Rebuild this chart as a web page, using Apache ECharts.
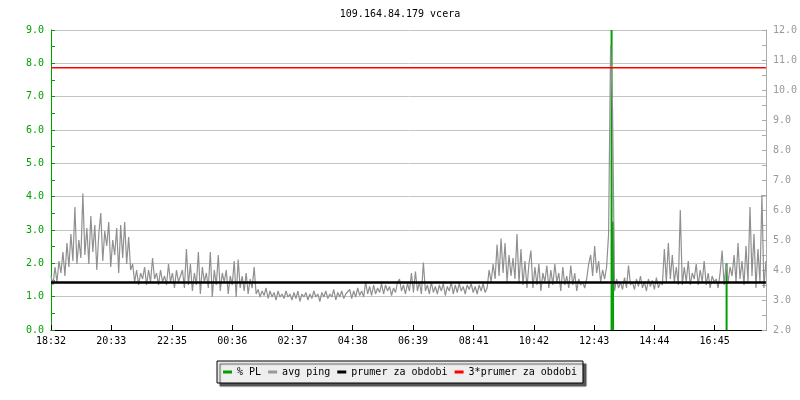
<!DOCTYPE html>
<html><head><meta charset="utf-8">
<script src="https://cdn.jsdelivr.net/npm/echarts@6/dist/echarts.min.js"></script>
<style>html,body{margin:0;padding:0;background:#fff}#c{width:800px;height:400px}</style>
</head><body><div id="c"></div>
<script>
const titleText = '109.164.84.179 vcera';
const tickLabels = ['18:32','20:33','22:35','00:36','02:37','04:38','06:39','08:41','10:42','12:43','14:44','16:45'];
const spanMinutes = 1436;
const pingStepMinutes = 4;
// avg ping [ms], one value every 4 minutes, starting 18:32
const pingValues = [
3.8,3.5,4.1,3.6,4.3,
3.9,4.6,3.8,4.9,4.1,5.2,4.3,6.1,4.2,5.0,4.4,
6.55,4.5,5.4,4.2,5.8,4.6,5.5,4.0,5.2,
5.9,4.3,5.3,4.8,5.6,4.1,5.0,4.5,5.4,3.9,5.5,4.4,5.6,4.2,5.1,4.0,
4.2,3.6,4.0,3.5,3.9,3.7,4.1,3.5,4.0,3.6,4.4,3.7,3.9,3.5,4.0,3.6,3.8,3.5,4.2,3.6,3.9,3.4,4.0,3.6,3.8,
4.0,3.4,4.7,3.5,4.2,3.3,3.9,3.5,4.6,3.2,4.1,3.6,3.9,3.4,4.6,3.1,4.0,3.5,4.5,3.3,3.9,3.6,4.0,3.2,3.8,3.5,4.3,3.1,4.35,3.4,3.8,3.3,3.9,3.2,3.7,3.4,4.1,
3.2,3.35,3.1,3.3,3.15,3.4,3.05,3.3,3.1,3.25,3.0,3.3,3.1,3.2,3.05,3.3,3.1,
3.2,3.0,3.25,3.05,3.3,2.95,3.2,3.1,3.25,3.0,3.2,3.05,3.3,3.1,3.2,2.95,3.25,3.1,3.3,3.05,3.2,3.1,3.35,3.0,3.25,3.1,3.3,3.05,3.2,3.15,3.35,3.05,3.3,3.1,3.4,3.15,3.3,3.1,
3.6,3.2,3.45,3.15,3.5,3.2,3.4,3.25,3.55,3.2,3.5,3.3,3.45,3.15,3.4,3.25,3.6,
3.7,3.3,3.5,3.2,3.55,3.3,3.9,3.25,3.95,3.3,3.6,3.2,4.25,3.3,3.5,3.2,3.6,3.25,3.45,3.2,3.5,3.3,3.55,3.15,3.45,3.3,3.6,3.2,3.5,3.25,3.55,3.3,3.45,3.2,3.5,3.35,3.55,3.25,3.45,3.2,3.5,3.3,3.55,3.25,3.4,
4.0,3.6,4.2,3.7,4.85,3.8,5.05,3.9,4.9,3.6,4.5,3.8,4.4,3.7,5.2,3.55,4.7,3.5,4.3,3.4,
4.2,4.65,3.4,4.1,3.5,4.2,3.3,3.9,3.6,4.15,3.4,4.0,3.5,4.2,3.6,3.9,3.3,4.1,3.5,3.8,3.4,4.15,3.5,3.9,3.3,3.7,3.5,3.6,3.4,
3.7,4.2,4.5,3.8,4.8,3.9,4.3,3.6,4.0,3.7,4.1,5.2,11.5,
9.3,
3.3,3.7,3.4,3.6,3.35,3.75,3.4,4.15,3.5,3.6,3.35,3.7,3.45,3.8,3.4,3.6,3.3,3.7,3.45,3.65,3.35,3.75,3.4,3.6,
3.5,4.7,3.6,4.9,3.7,4.5,3.6,4.1,3.5,6.0,
3.5,4.1,3.6,4.3,3.5,3.9,3.7,4.2,3.5,4.0,3.6,4.3,3.5,3.9,3.4,3.8,3.6,3.7,3.4,3.9,
4.65,3.5,4.2,3.6,4.1,3.8,4.5,3.6,4.9,3.7,4.3,3.5,4.8,3.6,6.1,3.8,5.2,3.4,4.7,3.6,6.5,3.4,4.3
];
// packet loss [%]
const plMinutes = [1126, 1129, 1357];
const plValues = [10, 3.25, 2.0];
const meanPing = 3.58;

const FONT = 'DejaVu Sans Mono';
const GREEN = '#00a000';
const startMin = 18*60+32;
const tickPos = tickLabels.map(l => { const [h,m] = l.split(':').map(Number); return ((h*60+m - startMin) + 1440) % 1440; });

const chart = echarts.init(document.getElementById('c'), null, {renderer:'canvas'});
chart.setOption({
  animation: false,
  title: { text: titleText, left: 'center', top: 4, textStyle: { fontFamily: FONT, fontSize: 10, fontWeight: 'normal', color: '#000' } },
  grid: { left: 51, right: 30, top: 30, bottom: 70 },
  legend: {
    data: ['% PL','avg ping','prumer za obdobi','3*prumer za obdobi'],
    left: 'center', top: 361, icon: 'rect', itemWidth: 9, itemHeight: 3, itemGap: 7,
    textStyle: { fontFamily: FONT, fontSize: 10, color: '#000' },
    backgroundColor: '#eeeeee', borderColor: '#000', borderWidth: 1, padding: [6, 6],
    shadowColor: '#555', shadowOffsetX: 3, shadowOffsetY: 3, shadowBlur: 1
  },
  xAxis: {
    type: 'value', min: 0, max: spanMinutes,
    axisLine: { show: true, onZero: false, lineStyle: { color: '#000', width: 1 } },
    axisTick: { show: true, inside: true, length: 5, customValues: tickPos, lineStyle: { color: '#000' } },
    axisLabel: { customValues: tickPos, margin: 6, fontFamily: FONT, fontSize: 10, color: '#000',
      formatter: v => { const i = tickPos.indexOf(v); return i >= 0 ? tickLabels[i] : ''; } },
    splitLine: { show: false }
  },
  yAxis: [
    { type: 'value', min: 0, max: 9, interval: 1, position: 'left',
      axisLine: { show: true, lineStyle: { color: GREEN } },
      axisTick: { show: true, inside: true, length: 4, lineStyle: { color: GREEN } },
      minorTick: { show: true, splitNumber: 2, length: 4, lineStyle: { color: GREEN } },
      axisLabel: { color: GREEN, margin: 7, fontFamily: FONT, fontSize: 10, formatter: v => v.toFixed(1) },
      splitLine: { show: true, lineStyle: { color: '#c4c4c4', width: 1 } } },
    { type: 'value', min: 2, max: 12, interval: 1, position: 'right',
      axisLine: { show: true, lineStyle: { color: '#aaa' } },
      axisTick: { show: true, inside: true, length: 4, lineStyle: { color: '#aaa' } },
      minorTick: { show: true, splitNumber: 2, length: 4, lineStyle: { color: '#aaa' } },
      axisLabel: { color: '#999', margin: 7, fontFamily: FONT, fontSize: 10, formatter: v => v.toFixed(1) },
      splitLine: { show: false } }
  ],
  series: [
    { name: '% PL', type: 'bar', yAxisIndex: 0, barWidth: 2, clip: true, color: GREEN,
      itemStyle: { color: GREEN }, data: plMinutes.map((m, i) => [m, plValues[i]]) },
    { name: 'avg ping', type: 'line', yAxisIndex: 1, symbol: 'none', showSymbol: false, clip: true, color: '#999',
      lineStyle: { color: '#909090', width: 1.2 }, data: pingValues.map((v, i) => [i * pingStepMinutes, v]) },
    { name: 'prumer za obdobi', type: 'line', yAxisIndex: 1, symbol: 'none', color: '#000',
      lineStyle: { color: '#000', width: 2.5 }, data: [[0, meanPing], [spanMinutes, meanPing]] },
    { name: '3*prumer za obdobi', type: 'line', yAxisIndex: 1, symbol: 'none', color: '#f00',
      lineStyle: { color: '#f00', width: 1.5 }, data: [[0, 3*meanPing], [spanMinutes, 3*meanPing]] }
  ]
});
</script></body></html>
